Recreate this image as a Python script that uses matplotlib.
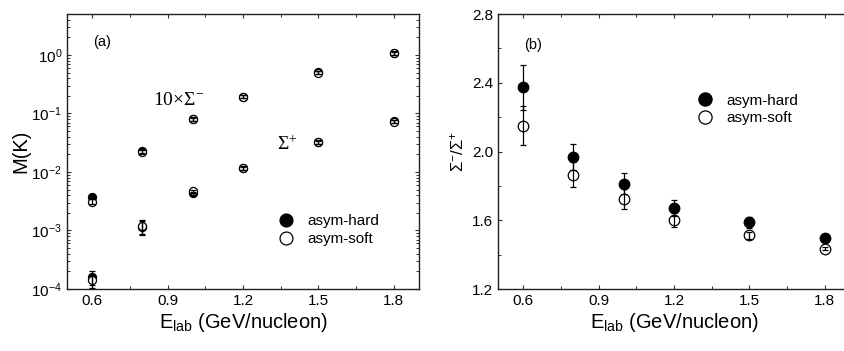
import numpy as np
import matplotlib
matplotlib.use("Agg")
import matplotlib.pyplot as plt
from matplotlib.ticker import MultipleLocator, LogLocator, NullFormatter

plt.rcParams['font.family'] = ['Liberation Sans', 'DejaVu Sans']
plt.rcParams['mathtext.fontset'] = 'custom'
plt.rcParams['mathtext.rm'] = 'Liberation Serif'
plt.rcParams['mathtext.sf'] = 'Liberation Sans'
plt.rcParams['mathtext.it'] = 'Liberation Serif:italic'

# energies (GeV/nucleon)
energy = [0.6, 0.8, 1.0, 1.2, 1.5, 1.8]

# panel (a): multiplicities, 10 x Sigma- (upper) and Sigma+ (lower)
sigm_hard = [3.8e-3, 2.3e-2, 8.0e-2, 0.194, 0.51, 1.08]
sigm_soft = [3.1e-3, 2.2e-2, 7.9e-2, 0.192, 0.50, 1.07]
sigm_hard_err = [0.3e-3, 0.2e-2, 0.6e-2, 0.012, 0.03, 0.07]
sigm_soft_err = [0.3e-3, 0.2e-2, 0.6e-2, 0.012, 0.03, 0.07]
sigp_hard = [1.6e-4, 1.15e-3, 4.3e-3, 1.17e-2, 3.26e-2, 7.3e-2]
sigp_soft = [1.4e-4, 1.18e-3, 4.7e-3, 1.16e-2, 3.24e-2, 7.2e-2]
sigp_hard_err = [0.45e-4, 0.3e-3, 0.3e-3, 0.07e-2, 0.2e-2, 0.45e-2]
sigp_soft_err = [0.35e-4, 0.32e-3, 0.3e-3, 0.07e-2, 0.2e-2, 0.45e-2]

# panel (b): Sigma-/Sigma+ ratio
ratio_hard = [2.373, 1.966, 1.813, 1.671, 1.588, 1.497]
ratio_soft = [2.150, 1.865, 1.724, 1.603, 1.512, 1.435]
ratio_hard_err = [0.13, 0.075, 0.06, 0.045, 0.032, 0.01]
ratio_soft_err = [0.115, 0.072, 0.058, 0.04, 0.02, 0.01]

fig = plt.figure(figsize=(8.45, 3.51), dpi=100)
ax1 = fig.add_axes([0.0793, 0.1766, 0.4166, 0.7835])
ax2 = fig.add_axes([0.5893, 0.1766, 0.4166, 0.7835])


def style_axis(ax):
    ax.tick_params(which='both', direction='in', top=True, right=True,
                   labelsize=11, color='#333333')
    ax.tick_params(which='major', length=3.2, width=0.8)
    ax.tick_params(which='minor', length=2.0, width=0.7)
    for s in ax.spines.values():
        s.set_linewidth(1.0)
        s.set_color('#222222')
    ax.set_xlim(0.5, 1.9)
    ax.xaxis.set_minor_locator(MultipleLocator(0.15))
    ax.set_xticks([0.6, 0.9, 1.2, 1.5, 1.8])
    ax.set_xticklabels(['0.6', '0.9', '1.2', '1.5', '1.8'])
    ax.set_xlabel(r'E$_{\mathsf{lab}}$ (GeV/nucleon)', fontsize=14.5, labelpad=2)


def draw_pair(ax, hard, soft, herr, serr, ms, label=True):
    ax.plot(energy, hard, 'o', color='black', ms=ms, mec='black', mew=0.9,
            zorder=2, label='asym-hard' if label else None)
    ax.plot(energy, soft, 'o', color='white', ms=ms, mec='black', mew=0.9,
            zorder=3, label='asym-soft' if label else None)
    ax.errorbar(energy, hard, yerr=herr, fmt='none', ecolor='black',
                elinewidth=0.9, capsize=2.2, capthick=0.9, zorder=4)
    ax.errorbar(energy, soft, yerr=serr, fmt='none', ecolor='black',
                elinewidth=0.9, capsize=2.2, capthick=0.9, zorder=4)


# ---- panel (a)
style_axis(ax1)
ax1.set_yscale('log')
ax1.set_ylim(1e-4, 5)
ax1.yaxis.set_major_locator(LogLocator(base=10, numticks=10))
ax1.yaxis.set_minor_locator(LogLocator(base=10, subs=np.arange(2, 10), numticks=10))
ax1.yaxis.set_minor_formatter(NullFormatter())
draw_pair(ax1, sigm_hard, sigm_soft, sigm_hard_err, sigm_soft_err, 5.8)
draw_pair(ax1, sigp_hard, sigp_soft, sigp_hard_err, sigp_soft_err, 5.8, label=False)
ax1.set_ylabel('M(K)', fontsize=14.5, labelpad=1)
ax1.text(0.0747, 0.898, '(a)', transform=ax1.transAxes, fontsize=10.5, va='center')
ax1.text(0.245, 0.684, r'$\mathrm{10{\times}\Sigma^{-}}$', transform=ax1.transAxes,
         fontsize=14, va='center')
ax1.text(0.596, 0.524, r'$\mathrm{\Sigma^{+}}$', transform=ax1.transAxes,
         fontsize=14, va='center')
ax1.legend(loc='center left', bbox_to_anchor=(0.6006, 0.2145), frameon=False,
           fontsize=11, markerscale=1.6, handlelength=1.0, handletextpad=0.88,
           borderpad=0, borderaxespad=0, labelspacing=0.25)

# ---- panel (b)
style_axis(ax2)
ax2.set_ylim(1.2, 2.8)
ax2.yaxis.set_major_locator(MultipleLocator(0.4))
ax2.yaxis.set_minor_locator(MultipleLocator(0.2))
draw_pair(ax2, ratio_hard, ratio_soft, ratio_hard_err, ratio_soft_err, 7.6)
ax2.set_ylabel(r'$\mathsf{\Sigma^{-}/\Sigma^{+}}$', fontsize=12, labelpad=4)
ax2.text(0.0747, 0.887, '(b)', transform=ax2.transAxes, fontsize=10.5, va='center')
ax2.legend(loc='center left', bbox_to_anchor=(0.5665, 0.6527), frameon=False,
           fontsize=11, markerscale=1.25, handlelength=1.0, handletextpad=0.88,
           borderpad=0, borderaxespad=0, labelspacing=0.25)

fig.savefig('out.png', dpi=100)
